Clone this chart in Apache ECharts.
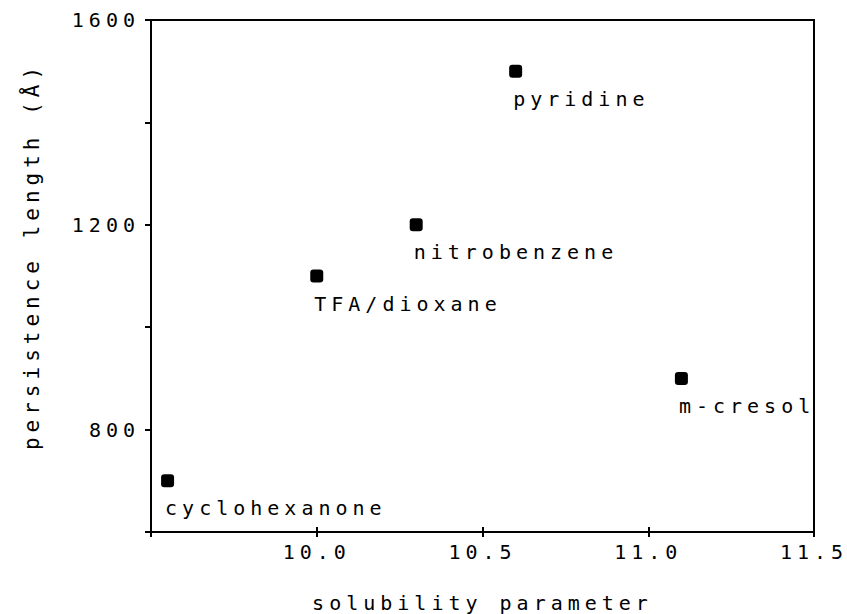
<!DOCTYPE html>
<html>
<head>
<meta charset="utf-8">
<script src="https://cdn.jsdelivr.net/npm/echarts@6/dist/echarts.min.js"></script>
<style>
  html, body { margin: 0; padding: 0; background: #fff; }
  #chart { width: 847px; height: 614px; }
  /* plotter-like wide lettering */
  #chart text { letter-spacing: 5px; }
</style>
</head>
<body>
<div id="chart"></div>
<script>
// solvent data
const solvents = ['cyclohexanone', 'TFA/dioxane', 'nitrobenzene', 'pyridine', 'm-cresol'];
const solubility = [9.55, 10.0, 10.3, 10.6, 11.1];
const persistence = [700, 1100, 1200, 1500, 900];

const font = 'DejaVu Sans Mono';
const ink = '#000';

const points = solvents.map((name, i) => ({ name: name, value: [solubility[i], persistence[i]] }));

const myChart = echarts.init(document.getElementById('chart'), null, { renderer: 'svg' });

const option = {
  backgroundColor: '#fff',
  animation: false,
  grid: {
    left: 151, right: 33, top: 20, bottom: 82,
    outerBoundsMode: 'none',
    containLabel: false,
    show: true, borderColor: ink, borderWidth: 2, backgroundColor: 'transparent'
  },
  xAxis: [
    {
      type: 'value',
      min: 9.5, max: 11.5, interval: 0.5,
      name: 'solubility parameter',
      nameLocation: 'middle',
      nameGap: 61,
      nameTextStyle: { color: ink, fontFamily: font, fontSize: 20 },
      axisLine: { lineStyle: { color: ink, width: 2 } },
      axisTick: { show: true, inside: false, length: 5, lineStyle: { color: ink, width: 2 } },
      axisLabel: {
        color: ink, fontFamily: font, fontSize: 20, margin: 10,
        formatter: v => (v === 9.5 ? '' : v.toFixed(1))
      },
      splitLine: { show: false }
    },
    {
      // inner half of the crossing ticks
      type: 'value',
      position: 'bottom',
      min: 9.5, max: 11.5, interval: 0.5,
      axisLine: { show: false },
      axisTick: { show: true, inside: true, length: 5, lineStyle: { color: ink, width: 2 } },
      axisLabel: { show: false },
      splitLine: { show: false }
    }
  ],
  yAxis: {
    type: 'value',
    min: 600, max: 1600, interval: 200,
    name: 'persistence length (Å)',
    nameLocation: 'middle',
    nameGap: 109,
    nameTextStyle: { color: ink, fontFamily: font, fontSize: 21, padding: [0, 0, 0, 40] },
    axisLine: { show: true, lineStyle: { color: ink, width: 2 } },
    axisTick: { show: true, length: 6, lineStyle: { color: ink, width: 2 } },
    axisLabel: {
      color: ink, fontFamily: font, fontSize: 20, margin: 11,
      formatter: v => (v % 400 === 0 ? String(v) : '')
    },
    splitLine: { show: false }
  },
  series: [
    {
      type: 'scatter',
      xAxisIndex: 0,
      symbol: 'roundRect',
      symbolSize: 13,
      itemStyle: { color: ink, opacity: 1 },
      label: {
        show: true,
        position: [4, 34],
        align: 'left',
        verticalAlign: 'middle',
        formatter: p => p.name,
        color: ink,
        fontFamily: font,
        fontSize: 20
      },
      data: points
    }
  ]
};

myChart.setOption(option);
</script>
</body>
</html>
